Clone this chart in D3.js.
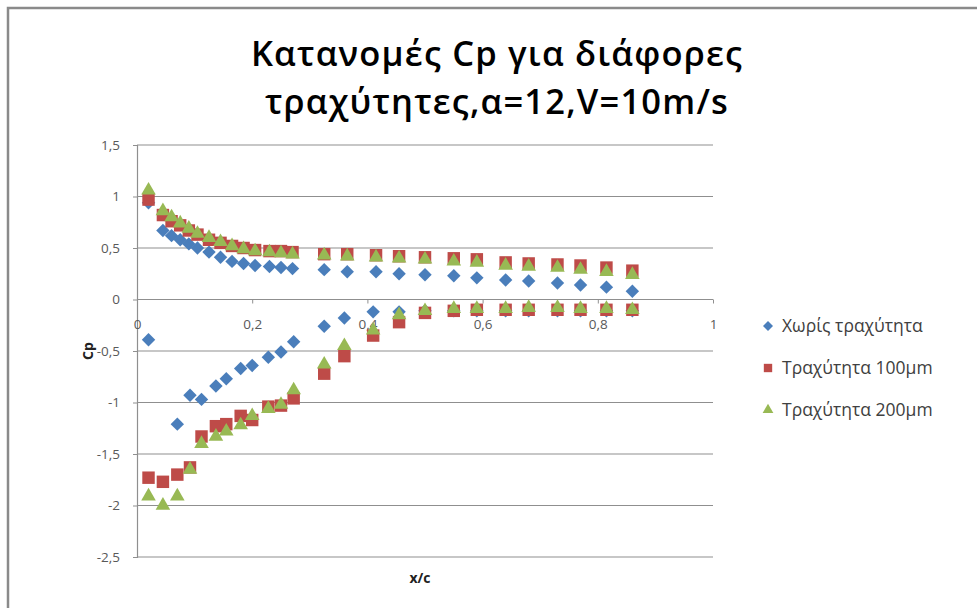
<!DOCTYPE html>
<html>
<head>
<meta charset="utf-8">
<script src="https://cdn.jsdelivr.net/npm/d3@7"></script>
<style>
html,body{margin:0;padding:0;background:#fff;}
svg{display:block;}
</style>
</head>
<body>
<svg id="chart" width="977" height="608"></svg>
<script>
// ---------- data ----------
const titleLines = ["Κατανομές Cp για διάφορες", "τραχύτητες,α=12,V=10m/s"];
const seriesNames = ["Χωρίς τραχύτητα", "Τραχύτητα 100μm", "Τραχύτητα 200μm"];
const xTicks = [0, 0.2, 0.4, 0.6, 0.8, 1];
const yTicks = [1.5, 1, 0.5, 0, -0.5, -1, -1.5, -2, -2.5];

const xUpper = [0.02, 0.045, 0.06, 0.075, 0.09, 0.105, 0.125, 0.145, 0.165, 0.185, 0.205, 0.23, 0.25, 0.27, 0.325, 0.365, 0.415, 0.455, 0.50, 0.55, 0.59, 0.64, 0.68, 0.73, 0.77, 0.815, 0.86];
const xLower = [0.02, 0.045, 0.07, 0.092, 0.112, 0.137, 0.155, 0.18, 0.2, 0.228, 0.25, 0.272, 0.325, 0.36, 0.41, 0.455, 0.5, 0.55, 0.59, 0.64, 0.68, 0.73, 0.77, 0.815, 0.86];

const cpSmoothUpper = [0.94, 0.67, 0.62, 0.58, 0.54, 0.50, 0.46, 0.41, 0.37, 0.35, 0.33, 0.32, 0.31, 0.30, 0.29, 0.27, 0.27, 0.25, 0.24, 0.23, 0.21, 0.19, 0.18, 0.16, 0.14, 0.12, 0.08];
const cpSmoothLower = [-0.39, null, -1.21, -0.93, -0.97, -0.84, -0.77, -0.67, -0.64, -0.56, -0.51, -0.41, -0.26, -0.18, -0.12, -0.12, -0.11, -0.11, -0.11, -0.11, -0.11, -0.11, -0.11, -0.11, -0.11];

const cp100Upper = [0.97, 0.82, 0.76, 0.72, 0.67, 0.63, 0.58, 0.55, 0.52, 0.50, 0.48, 0.47, 0.47, 0.46, 0.44, 0.44, 0.43, 0.42, 0.41, 0.40, 0.39, 0.36, 0.35, 0.34, 0.33, 0.31, 0.28];
const cp100Lower = [-1.73, -1.77, -1.70, -1.63, -1.33, -1.23, -1.21, -1.13, -1.17, -1.04, -1.03, -0.96, -0.72, -0.55, -0.35, -0.22, -0.13, -0.11, -0.10, -0.10, -0.10, -0.10, -0.10, -0.10, -0.10];

const cp200Upper = [1.06, 0.86, 0.80, 0.74, 0.69, 0.64, 0.60, 0.56, 0.52, 0.49, 0.47, 0.46, 0.45, 0.44, 0.43, 0.42, 0.41, 0.40, 0.39, 0.37, 0.36, 0.33, 0.32, 0.31, 0.29, 0.27, 0.24];
const cp200Lower = [-1.91, -2.00, -1.91, -1.65, -1.40, -1.33, -1.28, -1.22, -1.13, -1.06, -1.02, -0.88, -0.63, -0.45, -0.30, -0.15, -0.11, -0.09, -0.09, -0.09, -0.08, -0.08, -0.09, -0.09, -0.10];

const seriesColors = ["#4a7ebb", "#be4b48", "#98b954"];

// ---------- build ----------
function pts(xs, ys){ return xs.map((x,i)=>({x, y: ys[i]})).filter(d=>d.y!==null); }
const series = [
  pts(xUpper, cpSmoothUpper).concat(pts(xLower, cpSmoothLower)),
  pts(xUpper, cp100Upper).concat(pts(xLower, cp100Lower)),
  pts(xUpper, cp200Upper).concat(pts(xLower, cp200Lower))
];

// square rotated 45 degrees (equal width/height)
const diamondSq = {
  draw(ctx, size){
    const r = Math.sqrt(size/2);
    ctx.moveTo(0,-r); ctx.lineTo(r,0); ctx.lineTo(0,r); ctx.lineTo(-r,0); ctx.closePath();
  }
};
const seriesSymbols = [diamondSq, d3.symbolSquare, d3.symbolTriangle];

const svg = d3.select("#chart");
const font = "'Open Sans', 'Noto Sans', sans-serif";

// outer frame
svg.append("path").attr("d", "M8,608 L8,8 L977,8")
  .attr("fill","none").attr("stroke","#8a8a8a").attr("stroke-width",2.5);

const x = d3.scaleLinear().domain([0,1]).range([137, 713]);
const y = d3.scaleLinear().domain([-2.5,1.5]).range([557, 145]);

// gridlines
svg.append("g").selectAll("line").data(yTicks).join("line")
  .attr("x1", x(0)).attr("x2", x(1))
  .attr("y1", d=>y(d)).attr("y2", d=>y(d))
  .attr("stroke", "#8f8f8f").attr("stroke-width", 1.2);

// y axis
const yAxis = d3.axisLeft(y).tickValues(yTicks).tickSize(4).tickPadding(13)
  .tickFormat(d=>String(d).replace(".", ","));
const gy = svg.append("g").attr("transform", `translate(${x(0)},0)`).call(yAxis);
gy.select(".domain").attr("stroke","#8f8f8f").attr("stroke-width",1.2);
gy.selectAll(".tick line").attr("stroke","#8f8f8f");
gy.selectAll("text").attr("font-family", font).attr("font-size", 13.5).attr("fill","#595959");

// x axis at y=0
const xAxis = d3.axisBottom(x).tickValues(xTicks).tickSize(4).tickPadding(16)
  .tickFormat(d=>String(d).replace(".", ","));
const gx = svg.append("g").attr("transform", `translate(0,${y(0)})`).call(xAxis);
gx.select(".domain").remove();
gx.selectAll(".tick line").attr("stroke","#8f8f8f");
gx.selectAll("text").attr("font-family", font).attr("font-size", 13.5).attr("fill","#595959");

// title
svg.append("g").selectAll("text").data(titleLines).join("text")
  .attr("x", 497).attr("y", (d,i)=>66 + i*48)
  .attr("text-anchor","middle")
  .attr("font-family", font).attr("font-weight", 600).attr("font-size", 34.5)
  .attr("letter-spacing", 1.2)
  .attr("fill","#000")
  .text(d=>d);

// axis titles
svg.append("text").attr("x", 420).attr("y", 583).attr("text-anchor","middle")
  .attr("font-family", font).attr("font-weight", 700).attr("font-size", 14).attr("fill","#222")
  .text("x/c");
svg.append("text").attr("transform", `translate(93,${y(-0.5)}) rotate(-90)`)
  .attr("text-anchor","middle")
  .attr("font-family", font).attr("font-weight", 700).attr("font-size", 14).attr("fill","#222")
  .text("Cp");

// markers
const symSizes = [90, 155, 92];
series.forEach((s, i)=>{
  const sym = d3.symbol().type(seriesSymbols[i]).size(symSizes[i]);
  svg.append("g").selectAll("path").data(s).join("path")
    .attr("transform", d=>`translate(${x(d.x)},${y(d.y)})`)
    .attr("d", sym)
    .attr("fill", seriesColors[i]);
});

// legend
const leg = svg.append("g").attr("transform","translate(768,326)");
const legSizes = [50, 70, 50];
seriesNames.forEach((name,i)=>{
  const g = leg.append("g").attr("transform", `translate(0,${i*42})`);
  g.append("path").attr("d", d3.symbol().type(seriesSymbols[i]).size(legSizes[i])).attr("fill", seriesColors[i]);
  g.append("text").attr("x", 14).attr("y", 6)
    .attr("font-family", font).attr("font-size", 17.5).attr("fill","#404040")
    .text(name);
});
</script>
</body>
</html>
